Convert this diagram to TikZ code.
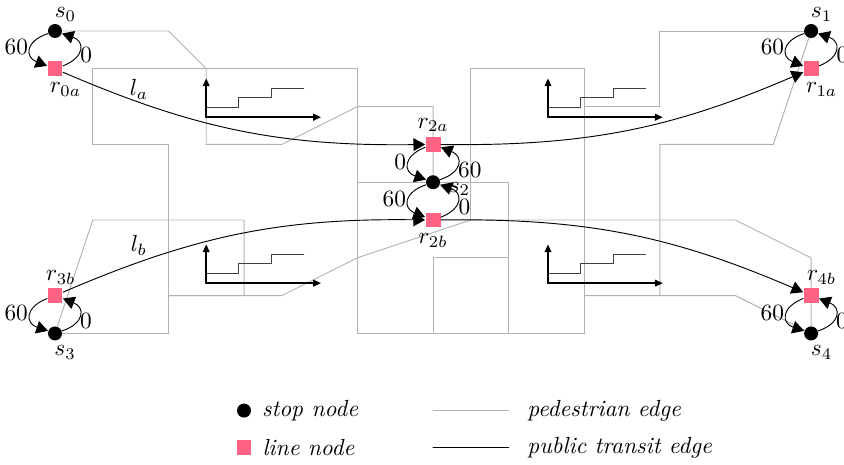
\documentclass[tikz,border=0pt]{standalone}
\usepackage{amsmath}
\usetikzlibrary{arrows.meta,backgrounds,positioning}

\definecolor{linepink}{HTML}{FF6384}

\begin{document}
\begin{tikzpicture}[x=0.57cm,y=0.57cm,line cap=round,line join=round,
  stopnode/.style={circle,fill=black,inner sep=0pt,minimum size=6pt},
  linenode/.style={rectangle,fill=linepink,inner sep=0pt,minimum size=6.4pt},
  ped/.style={gray!60},
  transit/.style={-{Triangle[length=5pt,width=5.5pt]}},
  change/.style={transit,bend right=70,looseness=1.9},
  lft/.style={left,pos=.45,inner sep=1pt},
  rgt/.style={right,pos=.33,inner sep=1pt},
  chartaxis/.style={thick,-{Triangle[length=3.4pt,width=2.8pt]}}]
  \useasboundingbox (-1.455,-3.47) rectangle (20.87,8.82);

  \node[stopnode,label={[label distance=-2.5pt,xshift=4.5pt]above:$s_0$}] (s0) at (0,8) {};
  \node[stopnode,label={[label distance=-2.5pt,xshift=4.5pt]above:$s_1$}] (s1) at (20,8) {};
  \node[stopnode,label={[label distance=0pt,yshift=-3pt]right:$s_2$}] (s2) at (10,4) {};
  \node[stopnode,label={[label distance=-1.5pt,xshift=4.3pt]below:$s_3$}] (s3) at (0,0) {};
  \node[stopnode,label={[label distance=-1.5pt,xshift=4.5pt]below:$s_4$}] (s4) at (20,0) {};
  \node[linenode,label={[label distance=-1pt,xshift=4.5pt]below:$r_{0a}$}] (r0a) at (0,7) {};
  \node[linenode,label={[label distance=-1pt,xshift=4.5pt]below:$r_{1a}$}] (r1a) at (20,7) {};
  \node[linenode,label={[label distance=-1.5pt]above:$r_{2a}$}] (r2a) at (10,5) {};
  \node[linenode,label={[label distance=-1pt]below:$r_{2b}$}] (r2b) at (10,3) {};
  \node[linenode,label={[label distance=-2pt,xshift=2.5pt]above:$r_{3b}$}] (r3b) at (0,1) {};
  \node[linenode,label={[label distance=-2pt,xshift=4.5pt]above:$r_{4b}$}] (r4b) at (20,1) {};

  \begin{scope}[on background layer]
    \draw[ped] (s0) -- (3,8) -- (4,7) -- (4,5) -- (6,5) -- (8,6) -- (10,6) -- (s2);
    \draw[ped] (s3) -- (3,0) -- (3,5) -- (1,5) -- (1,7) -- (8,7) -- (8,0) -- (14,0)
      -- (14,7) -- (11,7) -- (11,3);
    \draw[ped] (8,4) -- (12,4) -- (12,0);
    \draw[ped] (10,0) -- (10,2) -- (12,2);
    \draw[ped] (s1) -- (16,8) -- (16,6) -- (14,6);
    \draw[ped] (s1) -- (19,5) -- (16,5) -- (16,1);
    \draw[ped] (14,1) -- (18,1) -- (s4);
    \draw[ped] (s3) -- (1,3) -- (5,3) -- (5,1) -- (3,1);
    \draw[ped] (3,1) -- (6,1) -- (8,2) -- (11,3) -- (18,3) -- (20,2) -- (s4);
  \end{scope}

  \foreach \ox/\oy in {4/5.72,13.04/5.72,4/1.33,13.04/1.33}{
    \draw[chartaxis] (\ox,\oy) -- ++(0,1.03);
    \draw[chartaxis] (\ox,\oy) -- ++(3.04,0);
    \draw[black!75] (\ox,\oy+0.26) -- ++(0.86,0) -- ++(0,0.255) -- ++(0.86,0)
      -- ++(0,0.255) -- ++(0.86,0);
  }

  \draw[transit] (r0a) to[bend right=12] (r2a);
  \draw[transit] (r2a) to[bend right=12] (r1a);
  \draw[transit] (r3b) to[bend left=12] (r2b);
  \draw[transit] (r2b) to[bend left=12] (r4b);
  \node (la) at (2.22,6.46) {$l_a$};
  \node (lb) at (2.22,2.33) {$l_b$};

  \foreach \a/\b/\l/\r in {s0/r0a/60/0,s1/r1a/60/0,r2a/s2/0/60,s2/r2b/60/0,r3b/s3/60/0,r4b/s4/60/0}{
    \draw[change] (\a) to node[lft] {\l} (\b);
    \draw[change] (\b) to node[rgt] {\r} (\a);
  }

  \node[stopnode] (kstop) at (5,-2.04) {};
  \node[right=1pt of kstop] (kstoptext) {\textit{stop node}};
  \node[linenode] (kline) at (5,-3.02) {};
  \node[right=1pt of kline] (klinetext) {\textit{line node}};
  \coordinate (kp1) at (10,-2.04);
  \coordinate (kp2) at (12,-2.04);
  \coordinate (kt1) at (10,-3.02);
  \coordinate (kt2) at (12,-3.02);
  \draw[ped] (kp1) -- (kp2);
  \draw (kt1) -- (kt2);
  \node[right=4.5pt of kp2] (kptext) {\textit{pedestrian edge}};
  \node[right=4.5pt of kt2] (kttext) {\textit{public transit edge}};
\end{tikzpicture}
\end{document}
